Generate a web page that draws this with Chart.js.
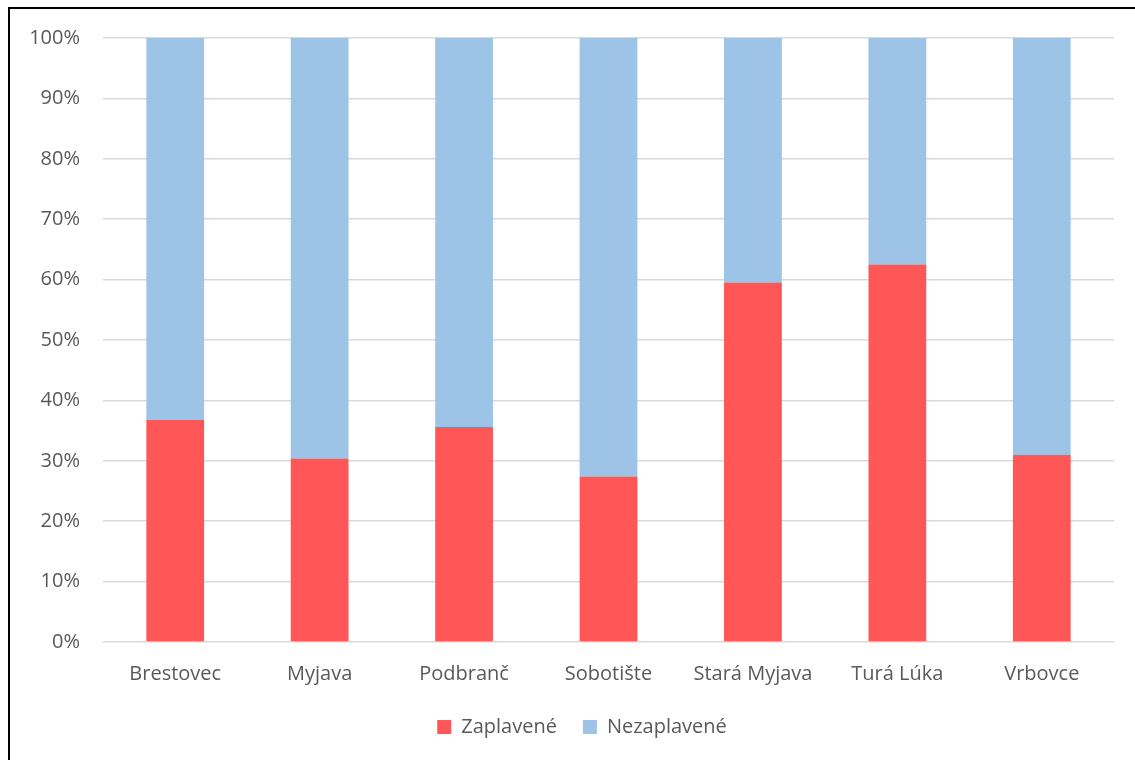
<!DOCTYPE html>
<html>
<head>
<meta charset="utf-8">
<script src="https://cdn.jsdelivr.net/npm/chart.js@4"></script>
<style>
  html, body { margin: 0; padding: 0; background: #fff; overflow: hidden; }
  #wrap { position: relative; width: 1135px; height: 760px; }
  #frame {
    position: absolute; left: 8px; top: 7px; width: 1200px; height: 800px;
    border-left: 2px solid #000; border-top: 2px solid #000;
    pointer-events: none;
  }
</style>
</head>
<body>
<div id="wrap">
  <canvas id="chart" width="1135" height="760"></canvas>
  <div id="frame"></div>
</div>
<script>
const villages = ['Brestovec', 'Myjava', 'Podbranč', 'Sobotište', 'Stará Myjava', 'Turá Lúka', 'Vrbovce'];
const flooded = [36.8, 30.4, 35.6, 27.4, 59.5, 62.5, 31.0];
const notFlooded = [63.2, 69.6, 64.4, 72.6, 40.5, 37.5, 69.0];
const yTicks = [0, 10, 20, 30, 40, 50, 60, 70, 80, 90, 100];

const textColor = '#595959';
const gridColor = '#d9d9d9';
const font = { family: '"Open Sans", sans-serif', size: 20 };

Chart.defaults.font = font;
Chart.defaults.color = textColor;

// nudge the legend a bit right of the canvas centre
const legendShift = {
  id: 'legendShift',
  afterLayout(chart) {
    if (chart.legend) chart.legend.left += 50;
  }
};

new Chart(document.getElementById('chart'), {
  type: 'bar',
  data: {
    labels: villages,
    datasets: [
      { label: 'Zaplavené', data: flooded, backgroundColor: '#ff5757', borderWidth: 0 },
      { label: 'Nezaplavené', data: notFlooded, backgroundColor: '#9dc3e6', borderWidth: 0 }
    ]
  },
  options: {
    responsive: false,
    animation: false,
    categoryPercentage: 1,
    barPercentage: 0.4,
    layout: { padding: { top: 38, right: 21, bottom: 13, left: 0 } },
    plugins: {
      tooltip: { enabled: false },
      legend: {
        position: 'bottom',
        labels: { boxWidth: 14, boxHeight: 14, padding: 26, color: textColor, font: font }
      }
    },
    scales: {
      x: {
        stacked: true,
        grid: { display: false, drawTicks: false },
        border: { display: false },
        ticks: { padding: 20, color: textColor, font: font, maxRotation: 0 },
        afterFit: (s) => { s.height = 49; }
      },
      y: {
        stacked: true,
        min: 0,
        max: 100,
        afterBuildTicks: (s) => { s.ticks = yTicks.map(v => ({ value: v })); },
        grid: { color: gridColor, lineWidth: 1.5, drawTicks: false },
        border: { display: false },
        ticks: { padding: 23, color: textColor, font: font, callback: (v) => v + '%' },
        afterFit: (s) => { s.width = 103; }
      }
    }
  },
  plugins: [legendShift]
});
</script>
</body>
</html>
